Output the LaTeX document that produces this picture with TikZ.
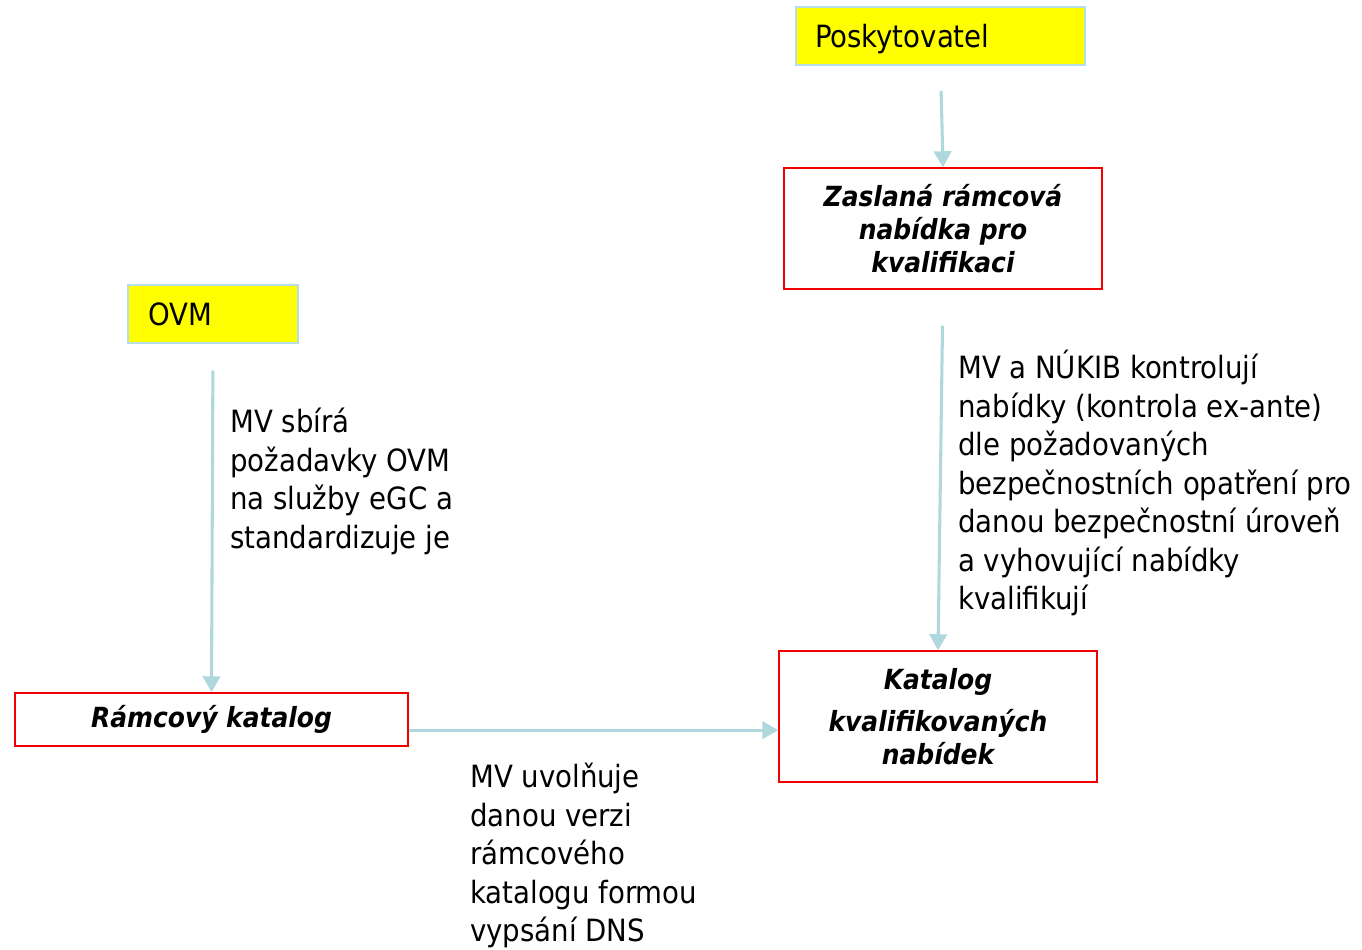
\documentclass[tikz,border=0pt]{standalone}
\usepackage{fontspec}
\setmainfont{DejaVu Sans Condensed}
\usetikzlibrary{arrows.meta}
\definecolor{zluta}{RGB}{255,255,0}
\definecolor{modra}{RGB}{183,221,232}
\definecolor{sipka}{RGB}{174,216,222}
\definecolor{cervena}{RGB}{240,0,0}
\tikzset{
	start/.style={draw=modra, line width=1.5pt, fill=zluta, align=left, inner ysep=0pt, text depth=0pt, minimum height=43.5pt, font=\fontsize{23}{26}\selectfont},
	krok/.style={draw=cervena, line width=1.1pt, align=center, inner sep=0pt, minimum width=238.5pt, font=\fontsize{20.8}{25}\selectfont\bfseries\itshape},
	popis/.style={anchor=north west, align=left, inner sep=0pt, font=\fontsize{23}{28.9}\selectfont},
	sip/.style={draw=sipka, line width=2.3pt, -{Triangle[width=13pt,length=12pt]}}
}
\begin{document}
\begin{tikzpicture}[x=0.75pt,y=-0.75pt]
\useasboundingbox (0,0) rectangle (1362,949);

%Boxy
\node[start, text width=188.25pt, inner xsep=14.25pt] (posk) at (940.5,36) {Poskytovatel};
\node[start, text width=97.5pt, inner xsep=15pt] (ovm) at (213,314) {OVM};
\node[krok, minimum height=90.75pt] (zasl) at (943,228.5) {Zaslaná rámcová\\nabídka pro\\kvalifikaci};
\node[krok, minimum width=294.75pt, minimum height=39.75pt] (ramc) at (211.5,719.5) {Rámcový katalog};
\node[krok, minimum height=98.25pt] (kat) at (938,716.5) {Katalog\\[6.5pt]kvalifikovaných\\nabídek};

%Sipky
\draw[sip, shorten <=18.75pt] (posk.south) -- (zasl.north);
\draw[sip, shorten <=20pt] (ovm.south) -- (ramc.north);
\draw[sip, shorten <=27pt] (zasl.south) -- (kat.north);
\draw[sip] ([yshift=-8pt]ramc.east) -- ([yshift=-8pt]ramc.east -| kat.west);

%Popisky
\node[popis] (p1) at (230,408) {MV sbírá\\požadavky OVM\\na služby eGC a\\standardizuje je};
\node[popis] (p2) at (470,763) {MV uvolňuje\\danou verzi\\rámcového\\katalogu formou\\vypsání DNS};
\node[popis] (p3) at (958,350) {MV a NÚKIB kontrolují\\nabídky (kontrola ex-ante)\\dle požadovaných\\bezpečnostních opatření pro\\danou bezpečnostní úroveň\\a vyhovující nabídky\\kvalifikují};

\end{tikzpicture}
\end{document}
